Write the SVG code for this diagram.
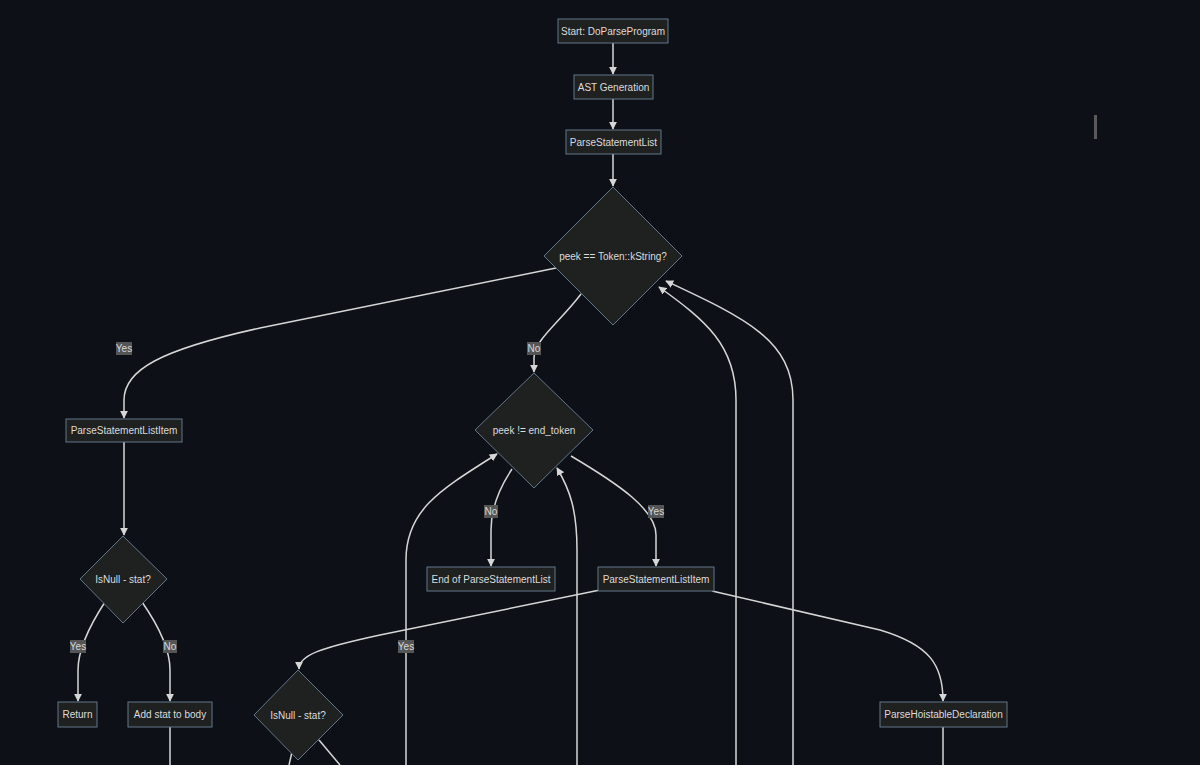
<svg xmlns="http://www.w3.org/2000/svg" width="1200" height="765" viewBox="0 0 1200 765">
<style>
.bg{fill:#0d1117}
.node rect,.node polygon{fill:#1f2020;stroke:#62768a;stroke-width:1}
.node text{font-family:"Liberation Sans",Arial,sans-serif;font-size:10px;fill:#dcdcdc;text-anchor:middle;dominant-baseline:central}
.edges path{fill:none;stroke:#d6d6d6;stroke-width:1.5}
.lbl rect{fill:#555555}
.lbl text{font-family:"Liberation Sans",Arial,sans-serif;font-size:10px;fill:#d8d8d8;text-anchor:middle;dominant-baseline:central}
</style>
<defs>
<marker id="arr" viewBox="0 0 10 10" refX="9" refY="5" markerWidth="8" markerHeight="8" markerUnits="userSpaceOnUse" orient="auto">
<path d="M0,0 L10,5 L0,10 z" fill="#d6d6d6"/>
</marker>
</defs>
<rect class="bg" x="0" y="0" width="1200" height="765"/>
<rect x="1094" y="115" width="3" height="24" fill="#5a5a5a"/>
<g class="edges" id="connectors">
<path d="M613,43 L613,74" marker-end="url(#arr)"/>
<path d="M613,99 L613,129" marker-end="url(#arr)"/>
<path d="M613,154 L613,186" marker-end="url(#arr)"/>
<path d="M556,268 L260,328 C160,350 124,370 124,400 L124,418" marker-end="url(#arr)"/>
<path d="M581,294 C560,322 534,340 534,358 L534,372" marker-end="url(#arr)"/>
<path d="M736,765 L736,400 C736,345 705,320 659,287" marker-end="url(#arr)"/>
<path d="M793,765 L793,400 C793,340 745,318 666,281" marker-end="url(#arr)"/>
<path d="M512,469 C498,490 491,510 491,530 L491,566" marker-end="url(#arr)"/>
<path d="M571,456 C620,485 656,510 656,535 L656,566" marker-end="url(#arr)"/>
<path d="M406,765 L406,560 C406,510 440,490 497,454" marker-end="url(#arr)"/>
<path d="M577,765 L577,550 C577,510 570,490 557,468" marker-end="url(#arr)"/>
<path d="M600,590 L380,635 C320,648 299,655 299,669" marker-end="url(#arr)"/>
<path d="M712,591 L880,630 C930,645 943,665 943,701" marker-end="url(#arr)"/>
<path d="M124,442 L124,535" marker-end="url(#arr)"/>
<path d="M105,602 C90,625 78,650 78,670 L78,701" marker-end="url(#arr)"/>
<path d="M142,602 C158,625 170,650 170,670 L170,701" marker-end="url(#arr)"/>
<path d="M170,727 L170,765"/>
<path d="M943,727 L943,765"/>
<path d="M292,752 L289,765"/>
<path d="M319,740 L340,765"/>
</g>
<g class="lbl" id="edge-labels">
<rect x="116" y="342" width="16" height="13"/><text x="124" y="348.5">Yes</text>
<rect x="527" y="342" width="14" height="13"/><text x="534" y="348.5">No</text>
<rect x="484" y="505" width="14" height="13"/><text x="491" y="511.5">No</text>
<rect x="648" y="505" width="16" height="13"/><text x="656" y="511.5">Yes</text>
<rect x="70" y="640" width="16" height="13"/><text x="78" y="646.5">Yes</text>
<rect x="163" y="640" width="14" height="13"/><text x="170" y="646.5">No</text>
<rect x="398" y="640" width="16" height="13"/><text x="406" y="646.5">Yes</text>
</g>
<g class="node" id="start"><rect x="558" y="19" width="110" height="24"/><text x="613" y="31">Start: DoParseProgram</text></g>
<g class="node" id="ast"><rect x="574" y="75" width="79" height="24"/><text x="613.5" y="87">AST Generation</text></g>
<g class="node" id="psl"><rect x="566" y="130" width="95" height="24"/><text x="613.5" y="142">ParseStatementList</text></g>
<g class="node" id="d1"><polygon points="613,187 682,256 613,325 544,256"/><text x="613" y="256">peek == Token::kString?</text></g>
<g class="node" id="psli1"><rect x="66" y="419" width="116" height="23"/><text x="124" y="430.5">ParseStatementListItem</text></g>
<g class="node" id="d2"><polygon points="534,373 593,430 534,488 475,430"/><text x="534" y="430">peek != end_token</text></g>
<g class="node" id="d3"><polygon points="123,536 167,579 123,623 80,579"/><text x="123" y="579">IsNull - stat?</text></g>
<g class="node" id="endpsl"><rect x="427" y="567" width="128" height="24"/><text x="491" y="579">End of ParseStatementList</text></g>
<g class="node" id="psli2"><rect x="598" y="567" width="116" height="24"/><text x="656" y="579">ParseStatementListItem</text></g>
<g class="node" id="ret"><rect x="58" y="702" width="39" height="25"/><text x="77.5" y="714.5">Return</text></g>
<g class="node" id="add"><rect x="128" y="702" width="84" height="25"/><text x="170" y="714.5">Add stat to body</text></g>
<g class="node" id="d4"><polygon points="298,670 343,715 298,760 254,715"/><text x="298" y="715">IsNull - stat?</text></g>
<g class="node" id="phd"><rect x="880" y="702" width="127" height="25"/><text x="943.5" y="714.5">ParseHoistableDeclaration</text></g>
</svg>
